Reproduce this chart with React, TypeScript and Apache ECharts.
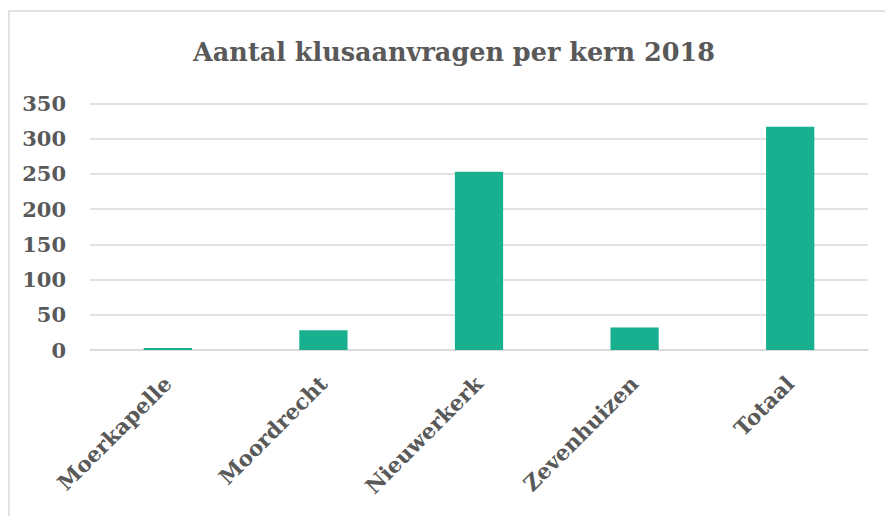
import React, { useEffect, useRef } from "react";
import * as echarts from "echarts";

const categories = ["Moerkapelle", "Moordrecht", "Nieuwerkerk", "Zevenhuizen", "Totaal"];
const values = [3, 28, 253, 32, 317];
const titleText = "Aantal klusaanvragen per kern 2018";

const FONT = "'DejaVu Serif', 'Liberation Serif', serif";

export default function App() {
  const ref = useRef<HTMLDivElement>(null);
  useEffect(() => {
    if (!ref.current) return;
    const chart = echarts.init(ref.current, undefined, { renderer: "svg" });
    chart.setOption({
      animation: false,
      backgroundColor: "#ffffff",
      title: {
        text: titleText,
        left: 449,
        textAlign: "center",
        top: 34,
        textStyle: { fontFamily: FONT, fontSize: 25.5, fontWeight: "bold", color: "#595959" },
      },
      graphic: [
        {
          type: "rect",
          shape: { x: 9, y: 11, width: 900, height: 520 },
          style: { fill: "none", stroke: "#d9d9d9", lineWidth: 1.5 },
          silent: true,
        },
      ],
      grid: { left: 90, right: 17, top: 103.5, bottom: 166, containLabel: false },
      xAxis: {
        type: "category",
        data: categories,
        axisLine: { lineStyle: { color: "#d9d9d9", width: 1.5 } },
        axisTick: { show: false },
        axisLabel: {
          rotate: 45,
          interval: 0,
          margin: 30,
          fontFamily: FONT,
          fontSize: 21.5,
          fontWeight: "bold",
          color: "#595959",
        },
      },
      yAxis: {
        type: "value",
        min: 0,
        max: 350,
        interval: 50,
        axisLine: { show: false },
        axisTick: { show: false },
        splitLine: { lineStyle: { color: "#d9d9d9", width: 1.5 } },
        axisLabel: {
          margin: 24,
          fontFamily: FONT,
          fontSize: 21,
          fontWeight: "bold",
          color: "#595959",
        },
      },
      series: [
        {
          type: "bar",
          data: values,
          barWidth: "31%",
          itemStyle: { color: "#18b08f" },
        },
      ],
    });
    return () => chart.dispose();
  }, []);
  return <div ref={ref} style={{ width: 885, height: 516, position: "absolute", left: 0, top: 0 }} />;
}
